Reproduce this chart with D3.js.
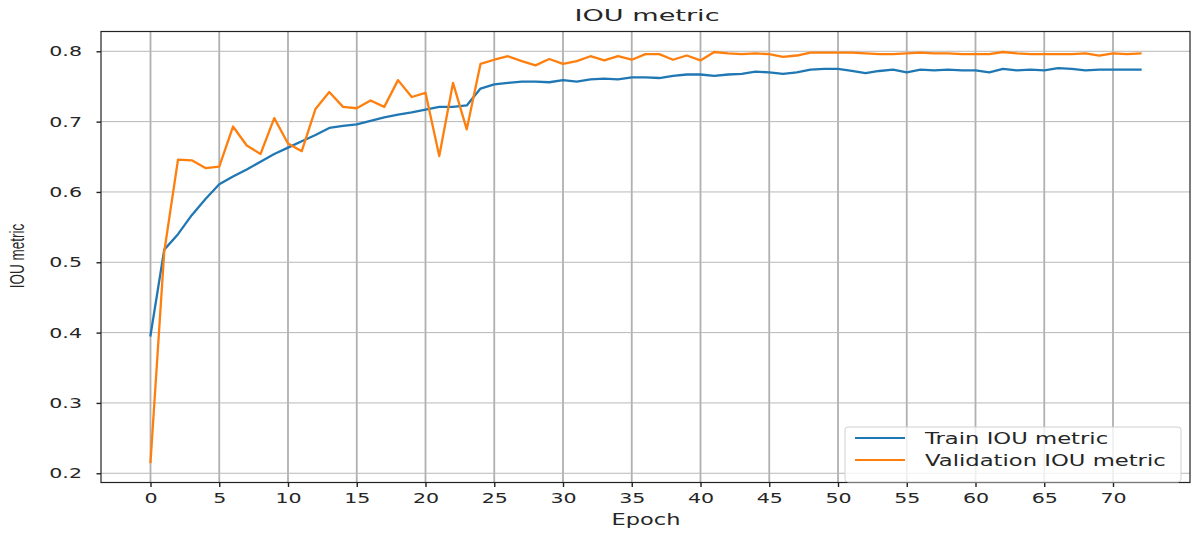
<!DOCTYPE html>
<html>
<head>
<meta charset="utf-8">
<script src="https://cdn.jsdelivr.net/npm/d3@7"></script>
<style>
  body { margin: 0; background: #fff; }
  text { font-family: "DejaVu Sans", sans-serif; fill: #262626; }
</style>
</head>
<body>
<svg id="chart" width="1194" height="533"></svg>
<script>
// Per-epoch IoU scores for training and validation
const epochs = d3.range(0, 73);
const trainIoU = [
  0.396, 0.518, 0.540, 0.567, 0.590, 0.611, 0.622, 0.632, 0.643, 0.654,
  0.663, 0.672, 0.681, 0.691, 0.694, 0.696, 0.701, 0.706, 0.710, 0.713,
  0.717, 0.721, 0.721, 0.723, 0.747, 0.753, 0.755, 0.757, 0.757, 0.756,
  0.759, 0.757, 0.760, 0.761, 0.760, 0.763, 0.763, 0.762, 0.765, 0.767,
  0.767, 0.765, 0.767, 0.768, 0.771, 0.770, 0.768, 0.770, 0.774, 0.775,
  0.775, 0.772, 0.769, 0.772, 0.774, 0.770, 0.774, 0.773, 0.774, 0.773,
  0.773, 0.770, 0.775, 0.773, 0.774, 0.773, 0.776, 0.775, 0.773, 0.774,
  0.774, 0.774, 0.774
];
const valIoU = [
  0.216, 0.515, 0.646, 0.645, 0.634, 0.636, 0.693, 0.666, 0.654, 0.705,
  0.669, 0.658, 0.718, 0.742, 0.721, 0.719, 0.730, 0.721, 0.759, 0.735,
  0.741, 0.651, 0.755, 0.689, 0.782, 0.788, 0.793, 0.786, 0.780, 0.789,
  0.782, 0.786, 0.793, 0.787, 0.793, 0.788, 0.796, 0.796, 0.788, 0.794,
  0.787, 0.799, 0.797, 0.796, 0.797, 0.796, 0.792, 0.794, 0.798, 0.798,
  0.798, 0.798, 0.797, 0.796, 0.796, 0.797, 0.798, 0.797, 0.797, 0.796,
  0.796, 0.796, 0.799, 0.797, 0.796, 0.796, 0.796, 0.796, 0.797, 0.794,
  0.797, 0.796, 0.797
];
const xTicks = d3.range(0, 71, 5);
const yTicks = [0.2, 0.3, 0.4, 0.5, 0.6, 0.7, 0.8];
const seriesNames = ["Train IOU metric", "Validation IOU metric"];
const seriesColors = ["#1f77b4", "#ff7f0e"];
const titleText = "IOU metric";
const xLabel = "Epoch";
const yLabel = "IOU metric";

// Layout
const plot = { left: 101, right: 1190, top: 31.5, bottom: 482.5 };
const textStretch = 1.42;   // horizontal widening of the rendered text

const svg = d3.select("#chart");
svg.append("rect").attr("width", 1194).attr("height", 533).attr("fill", "#fff");

// Scales with 5% padding around the data, like the plotting default
const xPad = (d3.max(epochs) - d3.min(epochs)) * 0.05;
const x = d3.scaleLinear()
  .domain([d3.min(epochs) - xPad, d3.max(epochs) + xPad])
  .range([plot.left, plot.right]);
const allVals = trainIoU.concat(valIoU);
const yMin = d3.min(allVals), yMax = d3.max(allVals);
const yPad = (yMax - yMin) * 0.05;
const y = d3.scaleLinear()
  .domain([yMin - yPad, yMax + yPad])
  .range([plot.bottom, plot.top]);

// Grid
const grid = svg.append("g");
grid.selectAll("line.v").data(xTicks).join("line")
  .attr("class", "v")
  .attr("x1", d => x(d)).attr("x2", d => x(d))
  .attr("y1", plot.top).attr("y2", plot.bottom)
  .attr("stroke", "#b0b0b0").attr("stroke-width", 1.8);
grid.selectAll("line.h").data(yTicks).join("line")
  .attr("class", "h")
  .attr("x1", plot.left).attr("x2", plot.right)
  .attr("y1", d => y(d)).attr("y2", d => y(d))
  .attr("stroke", "#b8b8b8").attr("stroke-width", 1);

// Series lines
const series = [trainIoU, valIoU];
const line = d3.line().x((d, i) => x(epochs[i])).y(d => y(d));
svg.append("g").selectAll("path").data(series).join("path")
  .attr("d", d => line(d))
  .attr("fill", "none")
  .attr("stroke", (d, i) => seriesColors[i])
  .attr("stroke-width", 2.3)
  .attr("stroke-linejoin", "round")
  .attr("stroke-linecap", "square");

// Frame
svg.append("rect")
  .attr("x", plot.left).attr("y", plot.top)
  .attr("width", plot.right - plot.left).attr("height", plot.bottom - plot.top)
  .attr("fill", "none").attr("stroke", "#222").attr("stroke-width", 1.2);

// Axes
const xAxis = svg.append("g")
  .attr("transform", `translate(0,${plot.bottom})`)
  .call(d3.axisBottom(x).tickValues(xTicks).tickFormat(d3.format("d"))
    .tickSizeInner(4.5).tickSizeOuter(0).tickPadding(6));
const yAxis = svg.append("g")
  .attr("transform", `translate(${plot.left},0)`)
  .call(d3.axisLeft(y).tickValues(yTicks).tickFormat(d3.format(".1f"))
    .tickSizeInner(4.5).tickSizeOuter(0).tickPadding(8));
[xAxis, yAxis].forEach(g => {
  g.select(".domain").remove();
  g.selectAll(".tick line").attr("stroke", "#222").attr("stroke-width", 1.4);
  g.selectAll(".tick text")
    .style("font-family", "DejaVu Sans, sans-serif")
    .style("font-size", "14.5px")
    .attr("fill", "#262626");
});
xAxis.selectAll(".tick text").attr("transform", `scale(${textStretch},1)`);
yAxis.selectAll(".tick text")
  .attr("x", -19 / textStretch)
  .attr("transform", `scale(${textStretch},1)`);

// Title and axis labels
svg.append("text")
  .attr("transform", `translate(647,21) scale(1.75,1)`)
  .attr("text-anchor", "middle")
  .style("font-size", "15.5px")
  .text(titleText);
svg.append("text")
  .attr("transform", `translate(646,525) scale(1.5,1)`)
  .attr("text-anchor", "middle")
  .style("font-size", "15px")
  .text(xLabel);
svg.append("text")
  .attr("transform", `translate(24,256) scale(1.45,1) rotate(-90)`)
  .attr("text-anchor", "middle")
  .style("font-family", "Liberation Sans, sans-serif")
  .style("font-size", "13.5px")
  .text(yLabel);

// Legend
const legend = svg.append("g").attr("transform", "translate(845,427)");
legend.append("rect")
  .attr("width", 336).attr("height", 55).attr("rx", 3)
  .attr("fill", "#fff").attr("fill-opacity", 0.8)
  .attr("stroke", "#d0d0d0").attr("stroke-width", 1);
const items = legend.selectAll("g.item").data(seriesNames).join("g")
  .attr("class", "item")
  .attr("transform", (d, i) => `translate(0,${11 + i * 22})`);
items.append("line")
  .attr("x1", 10).attr("x2", 60)
  .attr("stroke", (d, i) => seriesColors[i]).attr("stroke-width", 2.2);
items.append("text")
  .attr("transform", `translate(80,6) scale(${textStretch},1)`)
  .style("font-size", "16px")
  .text(d => d);
</script>
</body>
</html>
